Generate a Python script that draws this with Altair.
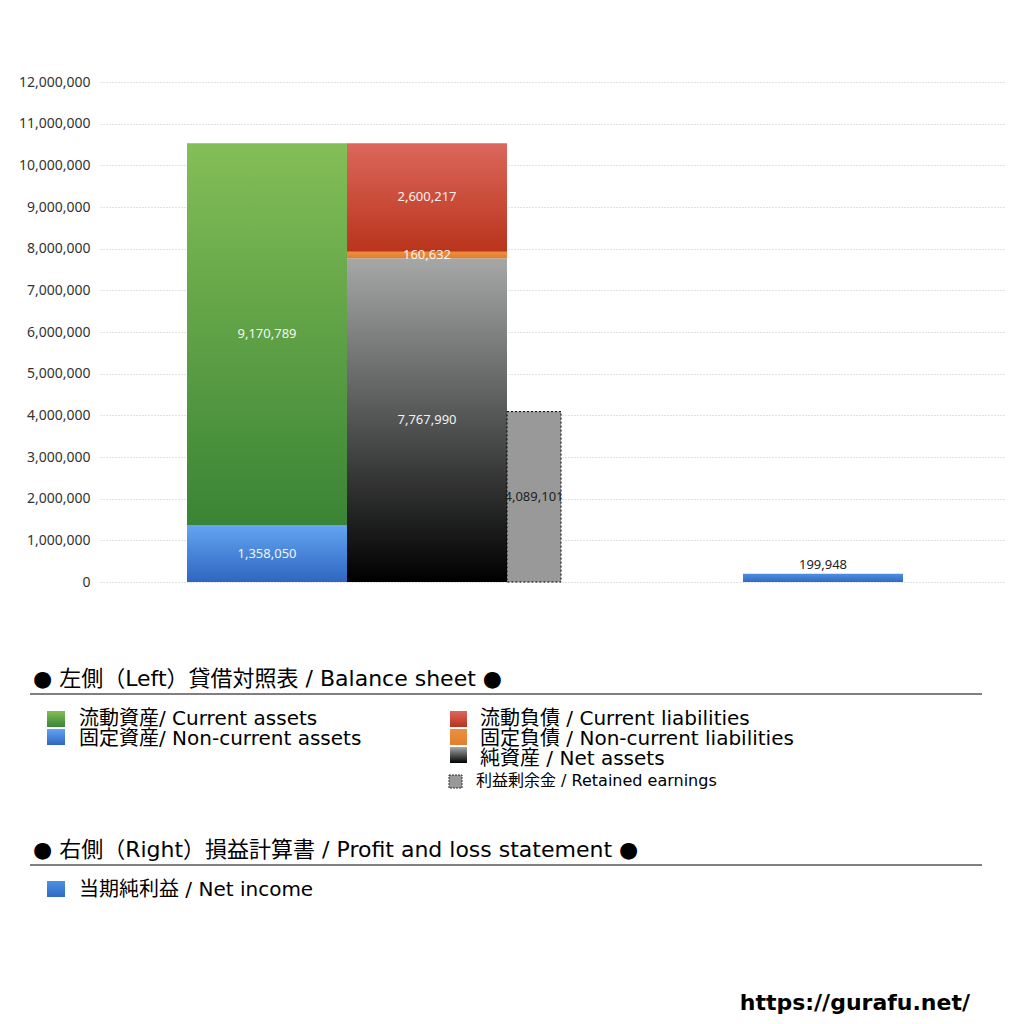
import altair as alt
import pandas as pd

# ---------------- data ----------------
asset_names = ["固定資産/ Non-current assets", "流動資産/ Current assets"]
asset_values = [1358050, 9170789]
liab_names = ["純資産 / Net assets", "固定負債 / Non-current liabilities", "流動負債 /  Current liabilities"]
liab_values = [7767990, 160632, 2600217]
retained_name = "利益剰余金 / Retained earnings"
retained_value = 4089101
income_name = "当期純利益 / Net income"
income_value = 199948
y_ticks = [i * 1000000 for i in range(0, 13)]

header_left = "● 左側（Left）貸借対照表 / Balance sheet ●"
header_right = "● 右側（Right）損益計算書 / Profit and loss statement ●"
site_text = "https://gurafu.net/"

# ---------------- styles ----------------
JP = "DejaVu Sans, Noto Sans CJK JP"
NUM = "Noto Sans"


def grad(top, bottom):
    return alt.LinearGradient(
        gradient="linear", x1=0, x2=0, y1=0, y2=1,
        stops=[alt.GradientStop(color=top, offset=0), alt.GradientStop(color=bottom, offset=1)],
    )


G_GREEN = grad("#84be57", "#3a8435")
G_BLUE = grad("#63a4f1", "#2e66c1")
G_RED = grad("#dc675c", "#b9341b")
G_ORANGE = grad("#eb9040", "#e07f2e")
G_BLACK = grad("#a6a8a8", "#000000")
G_INCOME = grad("#4f8fe2", "#2f6bc3")

asset_fills = [G_BLUE, G_GREEN]
liab_fills = [G_BLACK, G_ORANGE, G_RED]

# column slots (in bar-width units) for the hidden x scale
COL_ASSETS, COL_LIAB, COL_RET, COL_INC = 0.0, 1.0, 2.0, 3.475
RET_WIDTH = 0.3375
xscale = alt.Scale(domain=[-0.54375, 5.11875], nice=False, zero=False)
yscale = alt.Scale(domain=[0, 12000000], nice=False)
yaxis = alt.Axis(
    values=y_ticks, format=",d", title=None, domain=False, ticks=False,
    labelPadding=10, labelFontSize=14, labelColor="#333333", labelFont=NUM,
    grid=True, gridDash=[1, 2], gridColor="#c4c4c4", gridWidth=1,
)


def X(f):
    return alt.X(f, scale=xscale, axis=None)


def Y(f):
    return alt.Y(f, scale=yscale, axis=yaxis)


# ---------------- build segments ----------------
segments = []
fills = []
base = 0
for n, v, f in zip(asset_names, asset_values, asset_fills):
    segments.append(dict(name=n, x0=COL_ASSETS, x1=COL_ASSETS + 1, y0=base, y1=base + v, val=v))
    fills.append(f)
    base += v
base = 0
for n, v, f in zip(liab_names, liab_values, liab_fills):
    segments.append(dict(name=n, x0=COL_LIAB, x1=COL_LIAB + 1, y0=base, y1=base + v, val=v))
    fills.append(f)
    base += v

layers = []
for seg, f in zip(segments, fills):
    df = pd.DataFrame([seg])
    layers.append(
        alt.Chart(df).mark_rect(color=f).encode(x=X("x0:Q"), x2="x1:Q", y=Y("y0:Q"), y2="y1:Q")
    )

ret_df = pd.DataFrame([dict(name=retained_name, x0=COL_RET, x1=COL_RET + RET_WIDTH, y0=0, y1=retained_value, val=retained_value)])
layers.append(
    alt.Chart(ret_df).mark_rect(color="#999999", stroke="#000000", strokeWidth=1, strokeDash=[2, 2]).encode(
        x=X("x0:Q"), x2="x1:Q", y=Y("y0:Q"), y2="y1:Q"
    )
)
inc_df = pd.DataFrame([dict(name=income_name, x0=COL_INC, x1=COL_INC + 1, y0=0, y1=income_value, val=income_value)])
layers.append(
    alt.Chart(inc_df).mark_rect(color=G_INCOME).encode(x=X("x0:Q"), x2="x1:Q", y=Y("y0:Q"), y2="y1:Q")
)

# value labels
lab_df = pd.DataFrame(segments)
lab_df["xm"] = (lab_df.x0 + lab_df.x1) / 2
lab_df["ym"] = (lab_df.y0 + lab_df.y1) / 2
lab_df["txt"] = lab_df.val.map(lambda v: f"{v:,}")
layers.append(
    alt.Chart(lab_df).mark_text(color="#ffffff", fontSize=13, font=NUM, baseline="middle", opacity=0.92).encode(
        x=X("xm:Q"), y=Y("ym:Q"), text="txt:N"
    )
)
ret_lab = ret_df.assign(xm=(ret_df.x0 + ret_df.x1) / 2, ym=ret_df.y1 / 2, txt=ret_df.val.map(lambda v: f"{v:,}"))
layers.append(
    alt.Chart(ret_lab).mark_text(color="#222222", fontSize=13, font=NUM, baseline="middle").encode(
        x=X("xm:Q"), y=Y("ym:Q"), text="txt:N"
    )
)
inc_lab = inc_df.assign(xm=(inc_df.x0 + inc_df.x1) / 2, txt=inc_df.val.map(lambda v: f"{v:,}"))
layers.append(
    alt.Chart(inc_lab).mark_text(color="#222222", fontSize=13, font=NUM, baseline="bottom", dy=-2).encode(
        x=X("xm:Q"), y=Y("y1:Q"), text="txt:N"
    )
)

# ---------------- legend panel ----------------
one = alt.Data(values=[{"k": 0}])


def text(t, x, y, size=20, align="left", weight="normal", font=JP, color="#000000"):
    return alt.Chart(one).mark_text(
        align=align, baseline="middle", font=font, fontSize=size, fontWeight=weight, color=color
    ).encode(x=alt.value(x), y=alt.value(y), text=alt.value(t))


def swatch(fill, x0, x1, y0, y1, **kw):
    return alt.Chart(one).mark_rect(color=fill, **kw).encode(
        x=alt.value(x0), x2=alt.value(x1), y=alt.value(y0), y2=alt.value(y1)
    )


def rule(x0, x1, y):
    return alt.Chart(one).mark_rule(color="#000000", strokeWidth=1).encode(
        x=alt.value(x0), x2=alt.value(x1), y=alt.value(y)
    )


layers += [
    text(header_left, -67, 597, size=22),
    rule(-70, 882, 612),
    swatch(G_GREEN, -53, -35, 629, 645), text(asset_names[1], -21, 637),
    swatch(G_BLUE, -53, -35, 647, 663), text(asset_names[0], -21, 657),
    swatch(G_RED, 350, 367, 629, 645), text(liab_names[2], 380, 637),
    swatch(G_ORANGE, 350, 367, 647, 663), text(liab_names[1], 380, 657),
    swatch(G_BLACK, 350, 367, 665, 681), text(liab_names[0], 380, 677),
    swatch("#999999", 349, 362, 693, 706, stroke="#333333", strokeWidth=1, strokeDash=[2, 1]),
    text(retained_name, 376, 699, size=16),
    text(header_right, -67, 768, size=22),
    rule(-70, 882, 783),
    swatch(G_INCOME, -53, -35, 799, 815), text(income_name, -21, 808),
    text(site_text, 870, 921, size=22, align="right", weight="bold", font="DejaVu Sans"),
]

chart = alt.layer(*layers).properties(
    width=906,
    height=500,
    autosize=alt.AutoSizeParams(type="none"),
    padding={"left": 92, "top": 74, "right": 10, "bottom": 434},
).configure_view(stroke=None)

chart.save("out.html", embed_options={"renderer": "svg", "actions": False})
